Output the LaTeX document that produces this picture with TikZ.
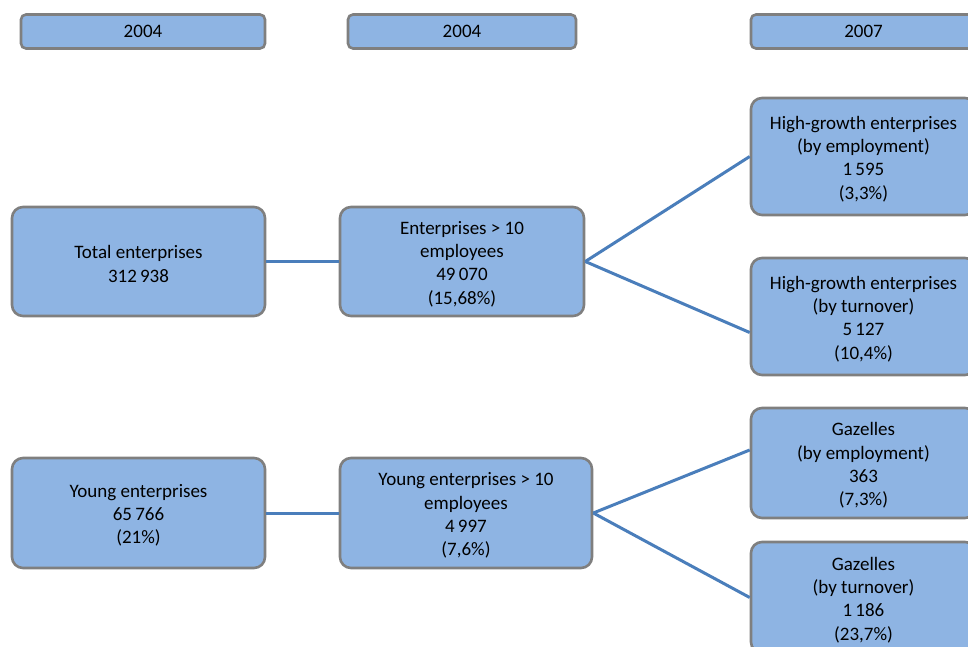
\documentclass[tikz,border=0pt]{standalone}
\usepackage{fontspec}
\setmainfont{Carlito}
\definecolor{boxfill}{HTML}{8EB4E3}
\definecolor{boxline}{HTML}{7F7F7F}
\definecolor{conn}{HTML}{4A7EBB}
\begin{document}
\begin{tikzpicture}[x=1pt,y=-1pt,
  box/.style={draw=boxline, line width=2.6pt, fill=boxfill, rounded corners=11pt, inner sep=0pt},
  txt/.style={align=center, inner sep=0pt, font=\fontsize{19}{23.2}\selectfont},
  hdr/.style={box, rounded corners=5pt, minimum height=34pt, font=\fontsize{19}{23.2}\selectfont},
  link/.style={draw=conn, line width=3pt}]
\useasboundingbox (0,0) rectangle (968,646);
\clip (0,0) rectangle (968,646);
% headers
\node[hdr, minimum width=244pt] (h1) at (143,31.5) {2004};
\node[hdr, minimum width=228pt] (h2) at (462,31.5) {2004};
\node[hdr, minimum width=225pt] (h3) at (863.5,31.5) {2007};
% row 1
\node[box, minimum width=253pt, minimum height=109pt] (tot) at (138.5,261.5) {};
\node[txt] (tot-t) at ([yshift=-2.5pt]tot.center) {Total enterprises\\312\,938};
\node[box, minimum width=244pt, minimum height=109pt] (ent) at (462,261.5) {};
\node[txt] (ent-t) at ([yshift=-2.5pt]ent.center) {Enterprises > 10\\employees\\49\,070\\(15,68\%)};
\node[box, minimum width=225pt, minimum height=117pt] (hge) at (863.5,156.5) {};
\node[txt] (hge-t) at ([yshift=-2.5pt]hge.center) {High-growth enterprises\\(by employment)\\1\,595\\(3,3\%)};
\node[box, minimum width=225pt, minimum height=117pt] (hgt) at (863.5,316.5) {};
\node[txt] (hgt-t) at ([yshift=-2.5pt]hgt.center) {High-growth enterprises\\(by turnover)\\5\,127\\(10,4\%)};
% row 2
\node[box, minimum width=253pt, minimum height=110pt] (yng) at (138.5,513) {};
\node[txt] (yng-t) at ([yshift=-2.5pt]yng.center) {Young enterprises\\65\,766\\(21\%)};
\node[box, minimum width=252pt, minimum height=110pt] (yge) at (466,513) {};
\node[txt] (yge-t) at ([yshift=-2.5pt]yge.center) {Young enterprises > 10\\employees\\4\,997\\(7,6\%)};
\node[box, minimum width=225pt, minimum height=110pt] (gze) at (863.5,463) {};
\node[txt] (gze-t) at ([yshift=-2.5pt]gze.center) {Gazelles\\(by employment)\\363\\(7,3\%)};
\node[box, minimum width=225pt, minimum height=111pt] (gzt) at (863.5,597.5) {};
\node[txt] (gzt-t) at ([yshift=-2.5pt]gzt.center) {Gazelles\\(by turnover)\\1\,186\\(23,7\%)};
% connectors
\draw[link] (tot.east) -- (ent.west);
\draw[link] (ent.east) -- (hge.west);
\draw[link] (ent.east) -- ([yshift=-16pt]hgt.west);
\draw[link] (yng.east) -- (yge.west);
\draw[link] (yge.east) -- ([yshift=13pt]gze.west);
\draw[link] (yge.east) -- (gzt.west);
\end{tikzpicture}
\end{document}
